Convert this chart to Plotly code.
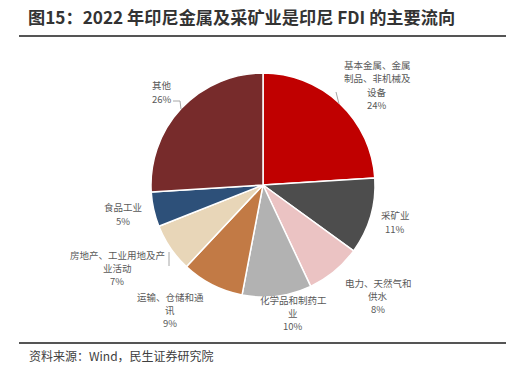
import plotly.graph_objects as go

categories = ["基本金属、金属<br>制品、非机械及<br>设备", "采矿业", "电力、天然气和<br>供水", "化学品和制药工<br>业",
              "运输、仓储和通<br>讯", "房地产、工业用地及产<br>业活动", "食品工业", "其他"]
values = [24, 11, 8, 10, 9, 7, 5, 26]
colors = ["#C00000", "#4D4D4D", "#EBC3C3", "#B2B2B2", "#C27A45", "#E8D6B8", "#2D5079", "#772B2B"]

W, H = 514, 373
cx, cy, r = 263, 185, 112


def px(x, y):
    return x / W, 1 - y / H


fig = go.Figure(go.Pie(
    labels=[c.replace("<br>", "") for c in categories], values=values, sort=False, direction="clockwise",
    rotation=0, marker=dict(colors=colors, line=dict(color="white", width=1.5)),
    textinfo="none", hoverinfo="label+percent", showlegend=False,
    domain=dict(x=[px(cx - r, 0)[0], px(cx + r, 0)[0]], y=[px(0, cy + r)[1], px(0, cy - r)[1]]),
))

# label centre positions (pixels)
label_pos = [(377, 85), (395, 222), (378, 296), (293, 313), (170, 310), (117, 268), (123, 214), (162, 92)]
LINE = 13.2

anns = []
for (lx, ly), cat, v in zip(label_pos, categories, values):
    lines = cat.split("<br>") + [f"{v}%"]
    top = ly - LINE * (len(lines) - 1) / 2
    for i, t in enumerate(lines):
        x, y = px(lx, top + i * LINE)
        anns.append(dict(x=x, y=y, xref="paper", yref="paper", showarrow=False,
                         text=t, align="center", xanchor="center", yanchor="middle",
                         font=dict(family="Noto Sans CJK SC", size=9.5, color="#595959")))

x, y = px(26, 16)
anns.append(dict(x=x, y=y, xref="paper", yref="paper", showarrow=False, xanchor="left", yanchor="middle",
                 text="<b>图15：2022 年印尼金属及采矿业是印尼 FDI 的主要流向</b>",
                 font=dict(family="Noto Sans CJK SC", size=17.2, color="#333333")))
x, y = px(27, 355)
anns.append(dict(x=x, y=y, xref="paper", yref="paper", showarrow=False, xanchor="left", yanchor="middle",
                 text="资料来源：Wind，民生证券研究院",
                 font=dict(family="Noto Sans CJK SC", size=12, color="#404040")))

shapes = []
for yy in (36, 343):
    x0, y0 = px(19, yy)
    x1, _ = px(506, yy)
    shapes.append(dict(type="line", xref="paper", yref="paper", x0=x0, x1=x1, y0=y0, y1=y0,
                       line=dict(color="#555555", width=1.8)))
# leader lines
for pts in [[(336, 92), (339, 104)], [(173, 101), (180, 101), (181, 109)], [(169, 252), (169, 266)]]:
    path = "M " + " L ".join(f"{px(a, b)[0]},{px(a, b)[1]}" for a, b in pts)
    shapes.append(dict(type="path", xref="paper", yref="paper", path=path, line=dict(color="#A6A6A6", width=1)))

fig.update_layout(width=W, height=H, margin=dict(l=0, r=0, t=0, b=0), paper_bgcolor="white",
                  plot_bgcolor="white", annotations=anns, shapes=shapes)
fig.write_html("out.html", config={"displayModeBar": False},
               post_script="document.body.style.margin='0';document.body.style.overflow='hidden';")
